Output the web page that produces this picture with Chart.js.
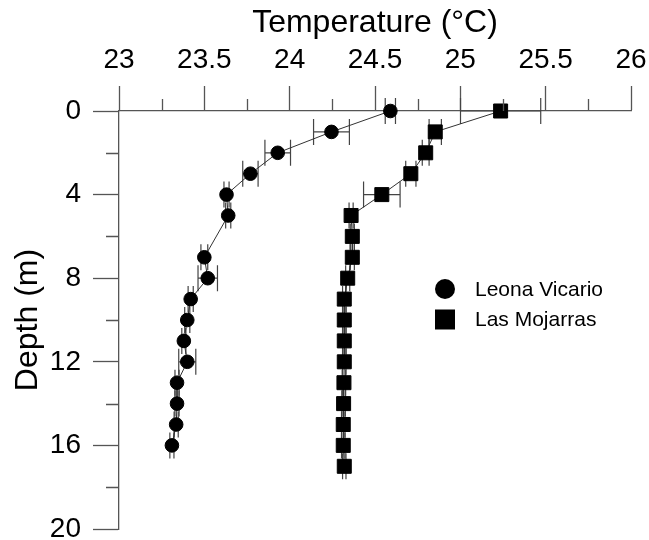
<!DOCTYPE html>
<html lang="en">
<head>
<meta charset="UTF-8">
<title>Temperature profiles</title>
<script src="https://cdn.jsdelivr.net/npm/chart.js"></script>
<style>
  html, body { margin: 0; padding: 0; background: #fff; }
  #box { width: 649px; height: 540px; }
</style>
</head>
<body>
<div id="box"><canvas id="grafico"></canvas></div>
<script>
// data
const leonaDepth = [0, 1, 2, 3, 4, 5, 7, 8, 9, 10, 11, 12, 13, 14, 15, 16];
const leonaTemp  = [24.59, 24.245, 23.93, 23.77, 23.63, 23.64, 23.50, 23.52, 23.42, 23.40, 23.38, 23.40, 23.34, 23.34, 23.335, 23.31];
const leonaErr   = [0.03, 0.105, 0.075, 0.045, 0.015, 0.015, 0.02, 0.057, 0.015, 0.015, 0.012, 0.05, 0.012, 0.012, 0.012, 0.012];

const mojDepth = [0, 1, 2, 3, 4, 5, 6, 7, 8, 9, 10, 11, 12, 13, 14, 15, 16, 17];
const mojTemp  = [25.236, 24.853, 24.797, 24.71, 24.54, 24.36, 24.367, 24.367, 24.34, 24.32, 24.32, 24.32, 24.32, 24.318, 24.316, 24.314, 24.314, 24.32];
const mojErr   = [0.235, 0.036, 0.02, 0.03, 0.107, 0.012, 0.012, 0.012, 0.012, 0.01, 0.01, 0.01, 0.01, 0.01, 0.01, 0.01, 0.01, 0.01];

const seriesNames = ["Leona Vicario", "Las Mojarras"];
const xTitle = "Temperature (°C)";
const yTitle = "Depth (m)";

const fonte = "'Liberation Sans', Arial, sans-serif";
const axisColor = "#555";

function pontos(xs, ys) {
  return xs.map(function (v, i) { return { x: v, y: ys[i] }; });
}

function isMajorX(v) { return Math.abs(v * 2 - Math.round(v * 2)) < 1e-6; }
function isMajorY(v) { return Math.round(v) % 4 === 0; }

// horizontal error bars, drawn under the markers
const errorBars = {
  id: "errorBars",
  beforeDatasetsDraw(chart) {
    const ctx = chart.ctx, xs = chart.scales.x, ys = chart.scales.y;
    const errs = [leonaErr, mojErr];
    ctx.save();
    ctx.strokeStyle = "#444";
    ctx.lineWidth = 1.2;
    chart.data.datasets.forEach(function (ds, d) {
      ds.data.forEach(function (p, i) {
        const y = ys.getPixelForValue(p.y);
        const x0 = xs.getPixelForValue(p.x - errs[d][i]);
        const x1 = xs.getPixelForValue(p.x + errs[d][i]);
        ctx.beginPath();
        ctx.moveTo(x0, y); ctx.lineTo(x1, y);
        ctx.moveTo(x0, y - 13); ctx.lineTo(x0, y + 13);
        ctx.moveTo(x1, y - 13); ctx.lineTo(x1, y + 13);
        ctx.stroke();
      });
    });
    ctx.restore();
  }
};

// short minor ticks (the library only has one tick length)
const minorTicks = {
  id: "minorTicks",
  afterDraw(chart) {
    const ctx = chart.ctx, xs = chart.scales.x, ys = chart.scales.y, a = chart.chartArea;
    ctx.save();
    ctx.strokeStyle = axisColor;
    ctx.lineWidth = 1.3;
    ctx.beginPath();
    xs.ticks.forEach(function (t) {
      if (isMajorX(t.value)) return;
      const x = Math.round(xs.getPixelForValue(t.value)) + 0.5;
      ctx.moveTo(x, a.top); ctx.lineTo(x, a.top - 12);
    });
    ys.ticks.forEach(function (t) {
      if (isMajorY(t.value)) return;
      const y = Math.round(ys.getPixelForValue(t.value)) + 0.5;
      ctx.moveTo(a.left, y); ctx.lineTo(a.left - 13, y);
    });
    ctx.stroke();
    ctx.restore();
  }
};

// legend inside the plot, right side
const legendaDentro = {
  id: "legendaDentro",
  afterDraw(chart) {
    const ctx = chart.ctx;
    ctx.save();
    ctx.fillStyle = "#000";
    ctx.beginPath();
    ctx.arc(445, 289, 10, 0, Math.PI * 2);
    ctx.fill();
    ctx.fillRect(435, 309.5, 20, 20);
    ctx.font = "21px " + fonte;
    ctx.textBaseline = "middle";
    ctx.fillText(chart.data.datasets[0].label, 475, 290);
    ctx.fillText(chart.data.datasets[1].label, 475, 320);
    ctx.restore();
  }
};

const config = {
  type: "scatter",
  data: {
    datasets: [
      {
        label: seriesNames[0],
        data: pontos(leonaTemp, leonaDepth),
        showLine: true,
        borderColor: "#333",
        borderWidth: 1,
        pointStyle: "circle",
        pointRadius: 6.8,
        pointBackgroundColor: "#000",
        pointBorderColor: "#000",
        clip: false
      },
      {
        label: seriesNames[1],
        data: pontos(mojTemp, mojDepth),
        showLine: true,
        borderColor: "#333",
        borderWidth: 1,
        pointStyle: "rect",
        pointRadius: 9.9,
        pointBackgroundColor: "#000",
        pointBorderColor: "#000",
        clip: false
      }
    ]
  },
  options: {
    responsive: true,
    maintainAspectRatio: false,
    animation: false,
    layout: { padding: { left: 0, top: 0, right: 18, bottom: 11 } },
    plugins: { legend: { display: false }, tooltip: { enabled: false } },
    scales: {
      x: {
        type: "linear",
        position: "top",
        min: 23, max: 26,
        afterFit: function (s) { s.height = 111; s.paddingLeft = 0; s.paddingRight = 0; },
        border: { color: axisColor, width: 1.3 },
        grid: {
          drawOnChartArea: false,
          tickLength: 25,
          tickWidth: 1.3,
          tickColor: function (c) { return isMajorX(c.tick.value) ? axisColor : "rgba(0,0,0,0)"; }
        },
        ticks: {
          stepSize: 0.25,
          autoSkip: false,
          maxRotation: 0,
          padding: 9,
          color: "#000",
          font: { family: fonte, size: 28 },
          callback: function (v) { return isMajorX(v) ? String(v) : ""; }
        },
        title: {
          display: true,
          text: xTitle,
          color: "#000",
          font: { family: fonte, size: 32 },
          padding: { top: 4, bottom: 0 }
        }
      },
      y: {
        type: "linear",
        reverse: true,
        min: 0, max: 20,
        afterFit: function (s) { s.width = 119; s.paddingTop = 0; s.paddingBottom = 0; },
        border: { color: axisColor, width: 1.3 },
        grid: {
          drawOnChartArea: false,
          tickLength: 26,
          tickWidth: 1.3,
          tickColor: function (c) { return isMajorY(c.tick.value) ? axisColor : "rgba(0,0,0,0)"; }
        },
        ticks: {
          stepSize: 2,
          autoSkip: false,
          padding: 12,
          color: "#000",
          font: { family: fonte, size: 28 },
          callback: function (v) { return isMajorY(v) ? String(v) : ""; }
        },
        title: {
          display: true,
          text: yTitle,
          color: "#000",
          font: { family: fonte, size: 32 },
          padding: { top: 9, bottom: 0 }
        }
      }
    }
  },
  plugins: [errorBars, minorTicks, legendaDentro]
};

new Chart(document.getElementById("grafico"), config);
</script>
</body>
</html>
